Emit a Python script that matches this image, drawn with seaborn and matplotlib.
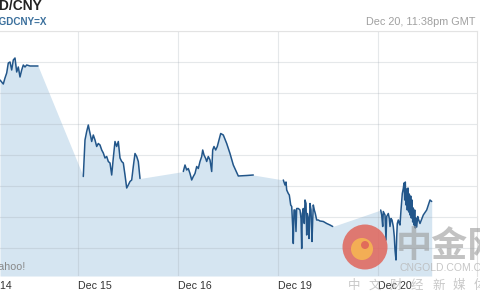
import numpy as np
import pandas as pd
import matplotlib
matplotlib.use("Agg")
import matplotlib.pyplot as plt
from matplotlib.patches import Ellipse
import seaborn as sns

# ---------------- data (x = trading-day position, Dec 14 = 0; y = SGD/CNY rate) -------------
day_labels = ["Dec 14", "Dec 15", "Dec 16", "Dec 19", "Dec 20"]
day_ticks = [0, 1, 2, 3, 4]

dec14_x = [0.22, 0.253, 0.27, 0.287, 0.303, 0.32, 0.337, 0.353, 0.37, 0.387, 0.403, 0.42,
           0.437, 0.453, 0.47, 0.487, 0.52, 0.60]
dec14_y = [4.8902, 4.8894, 4.8906, 4.8916, 4.8936, 4.8938, 4.8922, 4.8942, 4.8946, 4.8918,
           4.8928, 4.8908, 4.8922, 4.8932, 4.8928, 4.8932, 4.8930, 4.8930]

dec15_x = [1.053, 1.06, 1.07, 1.087, 1.103, 1.113, 1.127, 1.137, 1.153, 1.17, 1.187, 1.203,
           1.22, 1.237, 1.253, 1.27, 1.287, 1.303, 1.32, 1.337, 1.353, 1.37, 1.387, 1.403,
           1.42, 1.437, 1.453, 1.47, 1.487, 1.503, 1.52, 1.537, 1.553, 1.57, 1.587, 1.603, 1.62]
dec15_y = [4.8709, 4.8739, 4.8782, 4.8799, 4.8812, 4.8802, 4.8789, 4.8779, 4.8792, 4.8782,
           4.8769, 4.8775, 4.8772, 4.8762, 4.8756, 4.8746, 4.8749, 4.8739, 4.8736, 4.8712,
           4.8746, 4.8779, 4.8769, 4.8779, 4.8746, 4.8739, 4.8736, 4.8712, 4.8686, 4.8692,
           4.8699, 4.8702, 4.8729, 4.8755, 4.8749, 4.8739, 4.8705]

dec16_x = [2.053, 2.07, 2.087, 2.103, 2.12, 2.137, 2.153, 2.17, 2.187, 2.203, 2.22, 2.237,
           2.247, 2.26, 2.277, 2.287, 2.303, 2.32, 2.337, 2.347, 2.36, 2.377, 2.393, 2.41,
           2.427, 2.453, 2.487, 2.52, 2.553, 2.603, 2.687, 2.753]
dec16_y = [4.8719, 4.8732, 4.8722, 4.8725, 4.8715, 4.8702, 4.8709, 4.8715, 4.8729, 4.8725,
           4.8739, 4.8749, 4.8762, 4.8752, 4.8745, 4.8739, 4.8749, 4.8742, 4.8719, 4.8762,
           4.8769, 4.8762, 4.8769, 4.8782, 4.8795, 4.8792, 4.8775, 4.8755, 4.8732, 4.8710,
           4.8711, 4.8712]

dec19_x = [3.053, 3.07, 3.08, 3.087, 3.103, 3.113, 3.127, 3.137, 3.147, 3.153, 3.16, 3.17,
           3.18, 3.187, 3.203, 3.22, 3.23, 3.237, 3.243, 3.253, 3.263, 3.27, 3.28, 3.287,
           3.293, 3.303, 3.31, 3.32, 3.33, 3.34, 3.347, 3.353, 3.363, 3.373, 3.387, 3.403,
           3.42, 3.453, 3.487, 3.52, 3.547]
dec19_y = [4.8702, 4.8692, 4.8698, 4.8682, 4.8675, 4.8672, 4.8652, 4.8649, 4.8609, 4.8575,
           4.8642, 4.8642, 4.8599, 4.8645, 4.8645, 4.8642, 4.8625, 4.8565, 4.8635, 4.8645,
           4.8615, 4.8662, 4.8655, 4.8592, 4.8635, 4.8625, 4.8585, 4.8655, 4.8642, 4.8579,
           4.8622, 4.8652, 4.8642, 4.8635, 4.8622, 4.8622, 4.8620, 4.8619, 4.8615, 4.8612,
           4.8609]

dec20_x = [4.027, 4.037, 4.047, 4.053, 4.07, 4.08, 4.087, 4.103, 4.113, 4.12, 4.13, 4.14,
           4.153, 4.163, 4.17, 4.18, 4.187, 4.193, 4.203, 4.213, 4.22, 4.23, 4.243, 4.253,
           4.26, 4.267, 4.273, 4.28, 4.287, 4.293, 4.30, 4.307, 4.313, 4.32, 4.327, 4.333,
           4.34, 4.347, 4.353, 4.36, 4.367, 4.373, 4.38, 4.387, 4.397, 4.407, 4.42, 4.453,
           4.487, 4.52, 4.537]
dec20_y = [4.8642, 4.8632, 4.8609, 4.8639, 4.8632, 4.8582, 4.8629, 4.8635, 4.8625, 4.8609,
           4.8625, 4.8622, 4.8609, 4.8589, 4.8562, 4.8542, 4.8589, 4.8615, 4.8622, 4.8615,
           4.8612, 4.8642, 4.8675, 4.8685, 4.8696, 4.8662, 4.8698, 4.8652, 4.8684, 4.8642,
           4.8686, 4.8638, 4.8674, 4.8632, 4.8670, 4.8626, 4.8662, 4.8618, 4.8646, 4.8612,
           4.8642, 4.8606, 4.8626, 4.8608, 4.8629, 4.8622, 4.8615, 4.8632, 4.8642, 4.8662,
           4.8659]

title = "SGD/CNY"
symbol = "SGDCNY=X"
stamp = "Dec 20, 11:38pm GMT"

# ---------------- build table ----------------
segments = [(dec14_x, dec14_y), (dec15_x, dec15_y), (dec16_x, dec16_y),
            (dec19_x, dec19_y), (dec20_x, dec20_y)]
frames = []
for lab, (xs, ys) in zip(day_labels, segments):
    frames.append(pd.DataFrame({"pos": xs, "rate": ys, "day": lab}))
df = pd.concat(frames, ignore_index=True)

# ---------------- style ----------------
sns.set_theme(style="white")
plt.rcParams["font.family"] = ["Liberation Sans", "DejaVu Sans"]

LINE = "#22568a"
FILL = "#d5e5f1"
GRID = "#9aa4ad"
Y_LO, Y_HI = 4.8510, 4.9000

fig = plt.figure(figsize=(4.8, 3.0), dpi=100)
fig.patch.set_facecolor("white")
ax = fig.add_axes([-22 / 480, 24 / 300, 499 / 480, 245 / 300])
ax.set_facecolor("white")

ax.fill_between(df["pos"], df["rate"], Y_LO, color=FILL, lw=0, zorder=1)
sns.lineplot(data=df, x="pos", y="rate", units="day", estimator=None, sort=False,
             color=LINE, lw=1.1, ax=ax, zorder=2)

ax.set_xlim(0, 4.99)
ax.set_ylim(Y_LO, Y_HI)
ax.set_xticks(day_ticks)
ax.set_xticklabels(day_labels)
for lbl in ax.get_xticklabels():
    lbl.set_ha("left")
ax.set_yticks(np.arange(Y_HI, Y_LO + 0.004, -0.0062))
ax.tick_params(axis="x", length=0, pad=3.8, labelsize=7.7, labelcolor="#333333")
ax.tick_params(axis="y", length=0, labelleft=False)
ax.set_xlabel("")
ax.set_ylabel("")
ax.set_axisbelow("line")
ax.grid(True, color=GRID, alpha=0.25, lw=0.8)
for side in ["left", "bottom"]:
    ax.spines[side].set_visible(False)
for side in ["top", "right"]:
    ax.spines[side].set_color("#e3e3e3")
    ax.spines[side].set_linewidth(0.8)

ax.text(-7 / 480, 30 / 300, "Yahoo!", transform=fig.transFigure, fontsize=7.7,
        color="#888888", va="baseline", ha="left", zorder=3)

# ---------------- header ----------------
fig.text(-20 / 480, 1 - 10.5 / 300, title, fontsize=9.9, fontweight="bold",
         color="#222222", va="baseline", ha="left")
fig.text(-7 / 480, 1 - 25 / 300, symbol, fontsize=7.1, fontweight="bold",
         color="#3a6f9c", va="baseline", ha="left")
fig.text(475 / 480, 1 - 25 / 300, stamp, fontsize=7.8, color="#a0a0a0",
         va="baseline", ha="right")

# ---------------- watermark ----------------
fig.add_artist(Ellipse((365 / 480, 1 - 247 / 300), 45 / 480, 45 / 300,
                       transform=fig.transFigure, color="#e0655b", alpha=0.85, lw=0))
fig.add_artist(Ellipse((362 / 480, 1 - 249 / 300), 22 / 480, 22 / 300,
                       transform=fig.transFigure, color="#f6b552", alpha=0.9, lw=0))
fig.add_artist(Ellipse((365 / 480, 1 - 245 / 300), 8 / 480, 8 / 300,
                       transform=fig.transFigure, color="#e0655b", alpha=0.9, lw=0))
cjk = ["Noto Sans CJK SC", "DejaVu Sans"]
fig.text(396 / 480, 1 - 246 / 300, "中金网", family=cjk, fontsize=26, fontweight="bold",
         color="#9a9a9a", alpha=0.6, va="center", ha="left")
fig.text(399 / 480, 1 - 268 / 300, "CNGOLD.COM.CN", fontsize=7.5, color="#b8b8b8",
         alpha=0.8, va="center", ha="left")
for i, ch in enumerate("中文财经新媒体"):
    fig.text((348 + i * 21) / 480, 1 - 285 / 300, ch, family=cjk, fontsize=9,
             color="#bbbbbb", alpha=0.8, va="center", ha="left")

fig.savefig("out.png", dpi=100)
